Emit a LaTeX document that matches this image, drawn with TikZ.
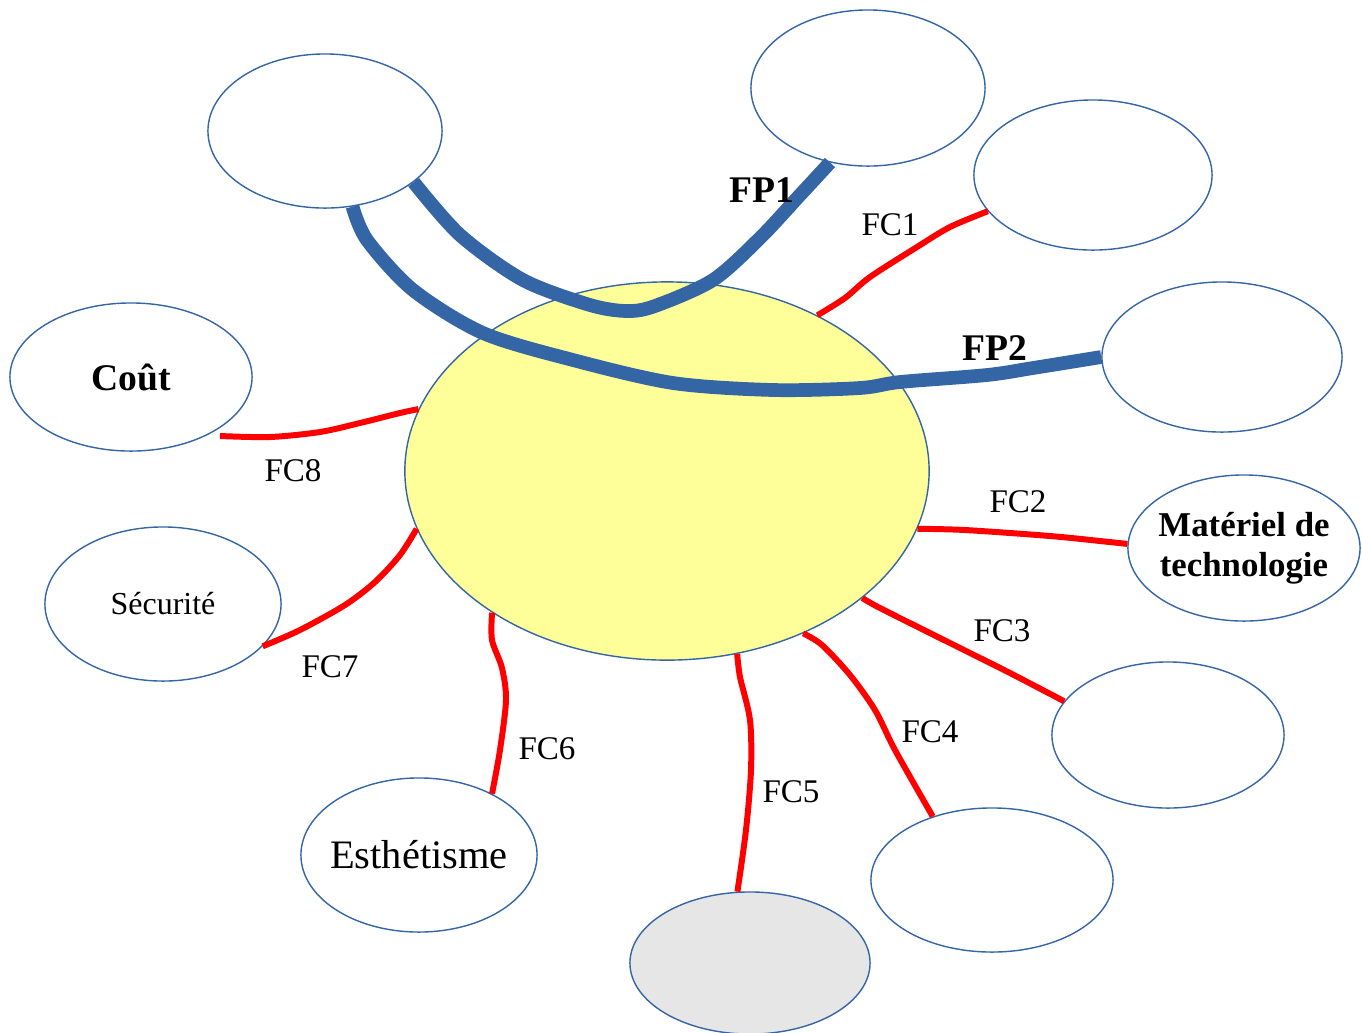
\documentclass[tikz,border=0pt]{standalone}
\usepackage{fontspec}
\setmainfont{Liberation Serif}
\usetikzlibrary{shapes.geometric}
\definecolor{lineblue}{HTML}{3465A4}
\definecolor{coreyellow}{HTML}{FFFF99}
\definecolor{softgrey}{HTML}{E6E6E6}
\tikzset{
  bubble/.style={ellipse, draw=lineblue, line width=0.4pt, inner sep=0pt},
  tight/.style={inner xsep=-0.5cm},
  fp/.style={lineblue, line width=3.9pt},
  fc/.style={red, line width=1.7pt},
  fclabel/.style={font=\fontsize{9.4}{11}\selectfont},
  fplabel/.style={font=\fontsize{10.7}{12}\selectfont\bfseries}
}
\begin{document}
\begin{tikzpicture}[x=0.01cm, y=-0.01cm]
\useasboundingbox (0,0) rectangle (1362,1032);
% central element
\node[bubble, fill=coreyellow, minimum width=5.24cm, minimum height=3.78cm] (core) at (667,471) {};
% surrounding elements
\node[bubble, minimum width=2.34cm, minimum height=1.54cm] (tl) at (325,131) {};
\node[bubble, minimum width=2.34cm, minimum height=1.56cm] (top) at (868,88) {};
\node[bubble, minimum width=2.38cm, minimum height=1.50cm] (fc1) at (1093,175) {};
\node[bubble, minimum width=2.40cm, minimum height=1.50cm] (fp2) at (1222,357) {};
\node[bubble, tight, minimum width=2.32cm, minimum height=1.46cm, align=center,
      font=\fontsize{9.9}{11.3}\selectfont\bfseries] (mat) at (1244,548) {Matériel de\\technologie};
\node[bubble, minimum width=2.32cm, minimum height=1.46cm] (fc3) at (1168,735) {};
\node[bubble, minimum width=2.42cm, minimum height=1.44cm] (fc4) at (992,880) {};
\node[bubble, fill=softgrey, minimum width=2.40cm, minimum height=1.42cm] (fc5) at (750,963) {};
\node[bubble, tight, minimum width=2.36cm, minimum height=1.54cm, font=\fontsize{11.5}{13}\selectfont] (esth) at (419,855) {Esthétisme};
\node[bubble, minimum width=2.36cm, minimum height=1.54cm, font=\fontsize{9.1}{10}\selectfont] (sec) at (163,604) {Sécurité};
\node[bubble, minimum width=2.42cm, minimum height=1.48cm, font=\fontsize{10.7}{12}\selectfont\bfseries] (cout) at (131,377) {Coût};
\coordinate (fc8end) at (220,436);
% constraint functions
\draw[fc] plot[smooth] coordinates {(core.46) (845,298) (870,277) (917,247) (950,227) (fc1.199)};
\draw[fc] plot[smooth] coordinates {(core.347) (965,530) (1050,536) (1100,541) (mat.178)};
\draw[fc] plot[smooth] coordinates {(core.327) (880,608) (960,648) (1010,673) (fc3.162)};
\draw[fc] plot[smooth] coordinates {(core.310) (822,645) (850,675) (875,710) (895,750) (fc4.133)};
\draw[fc] plot[smooth] coordinates {(core.291) (740,677) (750,720) (751,770) (746,830) (fc5.100)};
\draw[fc] plot[smooth] coordinates {(core.219) (492,640) (502,668) (506,700) (500,750) (esth.40)};
\draw[fc] plot[smooth] coordinates {(core.193) (400,555) (375,582) (345,605) (300,630) (sec.337)};
\draw[fc] plot[smooth] coordinates {(core.166) (400,413) (360,423) (320,432) (270,437) (fc8end)};
% principal functions
\draw[fp] plot[smooth] coordinates {(tl.330) (460,235) (523,280) (590,305) (627,311) (655,306) (713,280) (760,238) (800,195) (top.243)};
\draw[fp] plot[smooth] coordinates {(tl.290) (367,240) (413,290) (483,333) (573,360) (673,383) (773,390) (860,388) (900,382) (987,375) (1033,368) (fp2.180)};
% labels
\node[fplabel] (lfp1) at (762,190) {FP1};
\node[fplabel] (lfp2) at (995,348) {FP2};
\node[fclabel] (lfc1) at (890,225) {FC1};
\node[fclabel] (lfc2) at (1018,502) {FC2};
\node[fclabel] (lfc3) at (1002,631) {FC3};
\node[fclabel] (lfc4) at (930,732) {FC4};
\node[fclabel] (lfc5) at (791,792) {FC5};
\node[fclabel] (lfc6) at (547,749) {FC6};
\node[fclabel] (lfc7) at (330,667) {FC7};
\node[fclabel] (lfc8) at (293,471) {FC8};
\end{tikzpicture}
\end{document}
